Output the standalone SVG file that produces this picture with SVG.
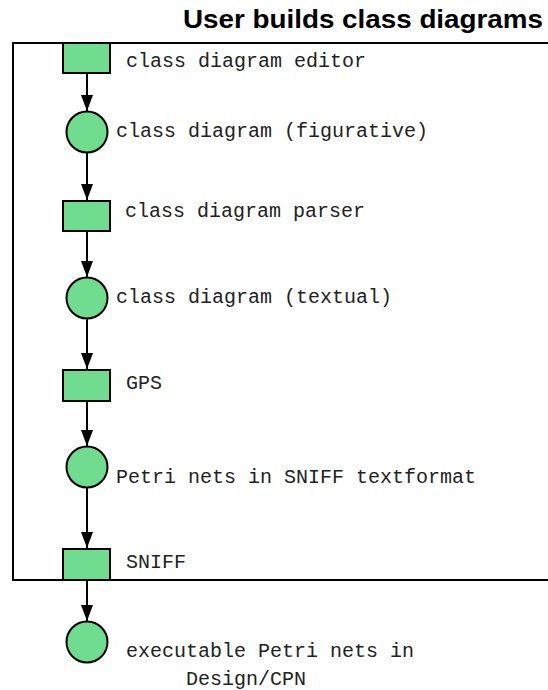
<svg xmlns="http://www.w3.org/2000/svg" width="548" height="690" viewBox="0 0 548 690">
  <style>
    .title { font-family: "Liberation Sans", Arial, sans-serif; font-weight: bold; font-size: 25px; fill: #000; }
    .lbl { font-family: "Liberation Mono", "Courier New", monospace; font-size: 20px; fill: #222; }
    .frame { fill: none; stroke: #000; stroke-width: 2; }
    .trans { fill: #6fdc90; stroke: #000; stroke-width: 2; }
    .place { fill: #6fdc90; stroke: #000; stroke-width: 2; }
    .arc { fill: none; stroke: #000; stroke-width: 2; marker-end: url(#head); }
  </style>
  <defs>
    <marker id="head" markerUnits="userSpaceOnUse" markerWidth="16" markerHeight="12" refX="16" refY="6" orient="auto" viewBox="0 0 16 12">
      <path d="M0,0 L16,6 L0,12 Z" fill="#000"/>
    </marker>
  </defs>

  <text class="title" x="183" y="28" textLength="360" lengthAdjust="spacingAndGlyphs">User builds class diagrams</text>

  <!-- boundary of the user activity -->
  <path class="frame" d="M560,43 H13 V580 H560"/>

  <!-- connectors -->
  <g id="arcs">
    <line class="arc" x1="87" y1="73" x2="87" y2="111"/>
    <line class="arc" x1="87" y1="153" x2="87" y2="200"/>
    <line class="arc" x1="87" y1="231" x2="87" y2="277"/>
    <line class="arc" x1="87" y1="319" x2="87" y2="369"/>
    <line class="arc" x1="87" y1="401" x2="87" y2="446"/>
    <line class="arc" x1="87" y1="488" x2="87" y2="548"/>
    <line class="arc" x1="87" y1="580" x2="87" y2="621"/>
  </g>

  <g id="editor">
    <rect class="trans" x="63" y="43" width="47" height="30"/>
    <text class="lbl" x="126" y="67">class diagram editor</text>
  </g>
  <g id="figurative">
    <circle class="place" cx="87" cy="132" r="20.5"/>
    <text class="lbl" x="116" y="137">class diagram (figurative)</text>
  </g>
  <g id="parser">
    <rect class="trans" x="63" y="201" width="47" height="30"/>
    <text class="lbl" x="125" y="217">class diagram parser</text>
  </g>
  <g id="textual">
    <circle class="place" cx="87" cy="298" r="20.5"/>
    <text class="lbl" x="116" y="303">class diagram (textual)</text>
  </g>
  <g id="gps">
    <rect class="trans" x="63" y="370" width="47" height="31"/>
    <text class="lbl" x="126" y="389">GPS</text>
  </g>
  <g id="sniff-text">
    <circle class="place" cx="87" cy="467" r="20.5"/>
    <text class="lbl" x="116" y="483">Petri nets in SNIFF textformat</text>
  </g>
  <g id="sniff">
    <rect class="trans" x="63" y="549" width="47" height="31"/>
    <text class="lbl" x="126" y="568">SNIFF</text>
  </g>
  <g id="cpn">
    <circle class="place" cx="87" cy="642" r="20.5"/>
    <text class="lbl" x="126" y="657">executable Petri nets in</text>
    <text class="lbl" x="186" y="685">Design/CPN</text>
  </g>
</svg>
